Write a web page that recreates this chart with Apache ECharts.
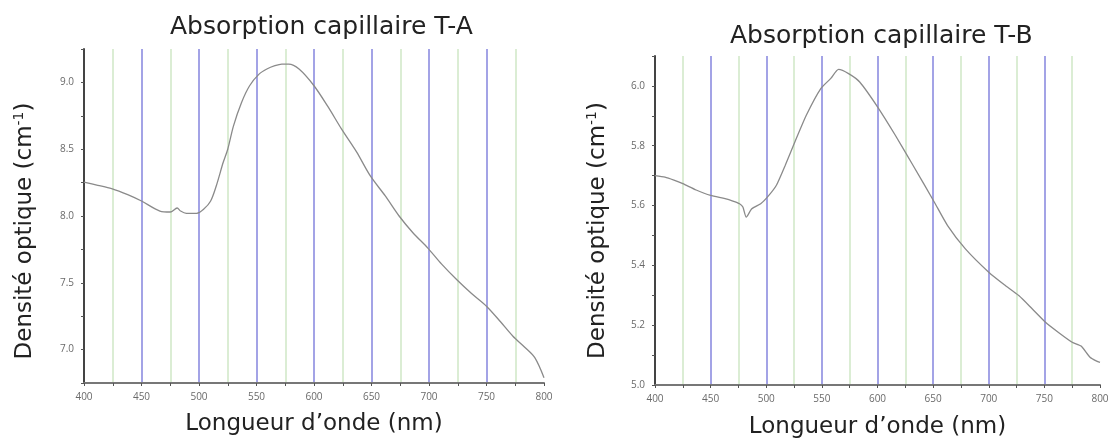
<!DOCTYPE html>
<html>
<head>
<meta charset="utf-8">
<script src="https://cdn.jsdelivr.net/npm/echarts@6/dist/echarts.min.js"></script>
<style>
html,body{margin:0;padding:0;background:#fff;}
#chart{width:1113px;height:444px;}
</style>
</head>
<body>
<div id="chart"></div>
<script>
// ---- Data ----
const titleA = 'Absorption capillaire T-A';
const titleB = 'Absorption capillaire T-B';
const xName = 'Longueur d\u2019onde (nm)';
const yNameMain = 'Densité optique (cm';
const yNameSup = '-1';

const wavelengthA = [400,412,424,438,450,466,475,481,484,489,498,504,510,515,521,525,530,537,544,552,559,566,572,578,587,600,612,624,637,649,662,674,686,699,711,724,737,750,762,773,783,792,800];
const absA = [8.254,8.23,8.205,8.16,8.112,8.037,8.03,8.06,8.037,8.02,8.02,8.05,8.11,8.225,8.4,8.5,8.675,8.85,8.975,9.06,9.1,9.125,9.137,9.137,9.1,8.975,8.82,8.65,8.48,8.3,8.15,8.0,7.875,7.76,7.64,7.525,7.42,7.325,7.21,7.1,7.02,6.94,6.79];

const wavelengthB = [400,409,417,425,437,450,463,470,476,479,482,487,495,501,509,517,527,536,549,558,565,574,584,600,616,632,651,663,679,700,714,727,739,751,763,775,783,791,797,800];
const absB = [5.70,5.695,5.685,5.673,5.652,5.634,5.623,5.615,5.606,5.595,5.561,5.589,5.606,5.628,5.667,5.734,5.824,5.902,5.991,6.025,6.055,6.041,6.013,5.93,5.835,5.734,5.612,5.533,5.455,5.377,5.335,5.299,5.255,5.21,5.175,5.143,5.13,5.093,5.08,5.076];

const xMin = 400, xMax = 800, xStep = 50;
const yA = {min: 6.75, max: 9.25, step: 0.25, labelStep: 0.5};
const yB = {min: 5.0, max: 6.1, step: 0.1, labelStep: 0.2};

// ---- Styles ----
const FONT = 'DejaVu Sans';
const LFONT = 'Open Sans';
const blue = '#a3a3e6';
const green = '#cfe7c6';

function pairs(xs, ys){ return xs.map((x,i)=>[x, ys[i]]); }

function xAxisCfg(gridIndex, gap){
  return {
    type:'value', gridIndex, min:xMin, max:xMax, interval:xStep,
    name:xName, nameLocation:'middle', nameGap:gap,
    nameTextStyle:{fontFamily:FONT, fontSize:23, color:'#222'},
    axisLine:{show:true, lineStyle:{color:'#777', width:2}},
    axisTick:{show:true, inside:false, length:3, lineStyle:{color:'#555', width:1}},
    minorTick:{show:true, splitNumber:2, length:3, lineStyle:{color:'#555', width:1}},
    axisLabel:{fontFamily:LFONT, fontSize:10, color:'#6a6a6a', margin:9},
    splitLine:{show:true, showMinLine:false, showMaxLine:false, lineStyle:{color:blue, width:2}},
    minorSplitLine:{show:true, lineStyle:{color:green, width:1.5}}
  };
}

function yAxisCfg(gridIndex, cfg, gap, shift){
  return {
    type:'value', gridIndex, min:cfg.min, max:cfg.max, interval:cfg.step,
    name:'{m|' + yNameMain + '}{s|' + yNameSup + '}{m|)}',
    nameLocation:'middle', nameGap:gap, nameRotate:90,
    nameTextStyle:{fontFamily:FONT, fontSize:23, color:'#222', padding:[0, shift, 0, 0],
      rich:{m:{fontFamily:FONT, fontSize:23, color:'#222'},
            s:{fontFamily:FONT, fontSize:14, color:'#222', padding:[0,0,12,0]}}},
    axisLine:{show:true, lineStyle:{color:'#444', width:2}},
    axisTick:{show:true, inside:false, length:3, lineStyle:{color:'#555', width:1}},
    axisLabel:{fontFamily:LFONT, fontSize:10, color:'#6a6a6a', margin:10,
      formatter:function(v){
        const k = (v - Math.ceil(cfg.min / cfg.labelStep - 1e-9) * cfg.labelStep) / cfg.labelStep;
        return Math.abs(k - Math.round(k)) < 1e-6 ? v.toFixed(1) : '';
      }},
    splitLine:{show:false}
  };
}

const chart = echarts.init(document.getElementById('chart'), null, {renderer:'canvas'});
chart.setOption({
  animation:false,
  backgroundColor:'#fff',
  title:[
    {text:titleA, left:165, top:10, textStyle:{fontFamily:FONT, fontSize:25, fontWeight:'normal', color:'#222'}},
    {text:titleB, left:725, top:19, textStyle:{fontFamily:FONT, fontSize:25, fontWeight:'normal', color:'#222'}}
  ],
  grid:[
    {left:84, right:569, top:49, bottom:61},
    {left:655, right:13, top:56, bottom:58}
  ],
  xAxis:[xAxisCfg(0, 30), xAxisCfg(1, 31)],
  yAxis:[yAxisCfg(0, yA, 46, 30), yAxisCfg(1, yB, 44, 20)],
  series:[
    {type:'line', xAxisIndex:0, yAxisIndex:0, data:pairs(wavelengthA, absA), showSymbol:false, smooth:0.3,
     lineStyle:{color:'#8a8a8a', width:1.3}, z:5},
    {type:'line', xAxisIndex:1, yAxisIndex:1, data:pairs(wavelengthB, absB), showSymbol:false, smooth:0.2,
     lineStyle:{color:'#8a8a8a', width:1.3}, z:5}
  ]
});
</script>
</body>
</html>
